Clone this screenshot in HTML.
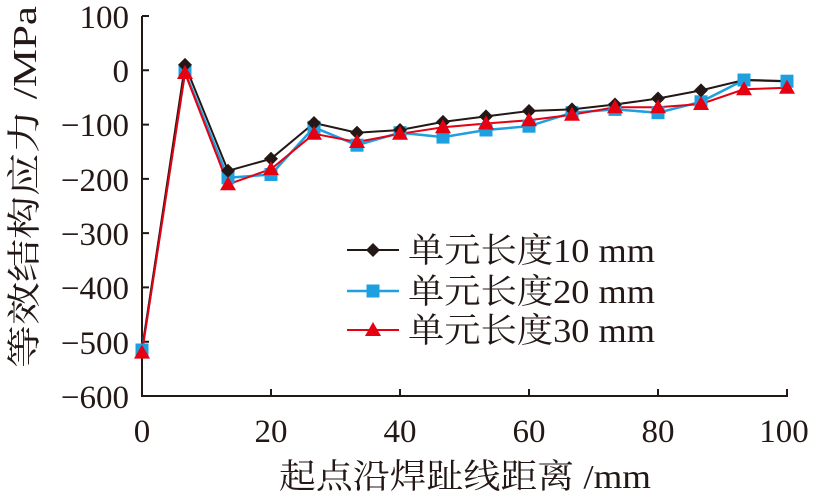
<!DOCTYPE html>
<html><head><meta charset="utf-8"><style>body{margin:0;background:#fff}</style></head><body>
<svg width="816" height="496" viewBox="0 0 816 496" xmlns="http://www.w3.org/2000/svg" font-family="Liberation Serif, Noto Serif CJK SC, serif" fill="#231815">
<defs>
<g id="d"><polygon points="0,-7 7,0 0,7 -7,0" fill="#231815"/></g>
<g id="s"><rect x="-6.5" y="-6.5" width="13" height="13" fill="#1ea0e0"/></g>
<g id="t"><polygon points="0,-8 8,6 -8,6" fill="#e50012"/></g>
</defs>
<g stroke="#231815" stroke-width="2" fill="none">
<line x1="142" y1="16" x2="142" y2="397"/>
<line x1="141" y1="396" x2="788" y2="396"/>
<path d="M142 16h7M142 70.3h7M142 124.6h7M142 178.9h7M142 233.1h7M142 287.4h7M142 341.7h7M271 396v-7M400 396v-7M529 396v-7M658 396v-7M787 396v-7"/>
</g>
<g font-size="33" text-anchor="end">
<text x="129" y="28">100</text><text x="129" y="82">0</text><text x="129" y="136">−100</text><text x="129" y="191">−200</text><text x="129" y="245">−300</text><text x="129" y="299">−400</text><text x="129" y="354">−500</text><text x="129" y="408">−600</text>
</g>
<g font-size="33" text-anchor="middle">
<text x="142" y="442">0</text><text x="271" y="442">20</text><text x="400" y="442">40</text><text x="529" y="442">60</text><text x="658" y="442">80</text><text x="784" y="442">100</text>
</g>
<text x="279" y="488" font-size="34" textLength="372" lengthAdjust="spacingAndGlyphs">起点沿焊趾线距离 /mm</text>
<text transform="translate(36,368) rotate(-90)" font-size="34" textLength="362" lengthAdjust="spacingAndGlyphs">等效结构应力 /MPa</text>
<g fill="none" stroke-width="2">
<polyline stroke="#1ea0e0" stroke-width="2.5" points="142,350 185,71.9 228,177.8 271,174.5 314,127.3 357,145.2 400,132.7 443,137.1 486,130 529,126.2 572,112.7 615,109.4 658,112.7 701,101.8 744,80 787,81.2"/>
<polyline stroke="#231815" points="142,350 185,64.9 228,170.8 271,158.8 314,123 357,132.7 400,130 443,121.9 486,116.4 529,111 572,109.4 615,104.5 658,98.5 701,90.4 744,80 787,81.2"/>
<polyline stroke="#e50012" points="142,352.6 185,73 228,184.3 271,169.1 314,133.8 357,142 400,133.8 443,127.3 486,123.5 529,120.2 572,114.8 615,107.2 658,107.2 701,104 744,89.3 787,87.7"/>
</g>
<g>
<use href="#s" x="142" y="350"/><use href="#s" x="185" y="71.9"/><use href="#s" x="228" y="177.8"/><use href="#s" x="271" y="174.5"/><use href="#s" x="314" y="127.3"/><use href="#s" x="357" y="145.2"/><use href="#s" x="400" y="132.7"/><use href="#s" x="443" y="137.1"/><use href="#s" x="486" y="130"/><use href="#s" x="529" y="126.2"/><use href="#s" x="572" y="112.7"/><use href="#s" x="615" y="109.4"/><use href="#s" x="658" y="112.7"/><use href="#s" x="701" y="101.8"/><use href="#s" x="744" y="80"/><use href="#s" x="787" y="81.2"/>
<use href="#d" x="185" y="64.9"/><use href="#d" x="228" y="170.8"/><use href="#d" x="271" y="158.8"/><use href="#d" x="314" y="123"/><use href="#d" x="357" y="132.7"/><use href="#d" x="400" y="130"/><use href="#d" x="443" y="121.9"/><use href="#d" x="486" y="116.4"/><use href="#d" x="529" y="111"/><use href="#d" x="572" y="109.4"/><use href="#d" x="615" y="104.5"/><use href="#d" x="658" y="98.5"/><use href="#d" x="701" y="90.4"/>
<use href="#t" x="142" y="352.6"/><use href="#t" x="185" y="73"/><use href="#t" x="228" y="184.3"/><use href="#t" x="271" y="169.1"/><use href="#t" x="314" y="133.8"/><use href="#t" x="357" y="142"/><use href="#t" x="400" y="133.8"/><use href="#t" x="443" y="127.3"/><use href="#t" x="486" y="123.5"/><use href="#t" x="529" y="120.2"/><use href="#t" x="572" y="114.8"/><use href="#t" x="615" y="107.2"/><use href="#t" x="658" y="107.2"/><use href="#t" x="701" y="104"/><use href="#t" x="744" y="89.3"/><use href="#t" x="787" y="87.7"/>
</g>
<line x1="347" y1="250" x2="399" y2="250" stroke="#231815" stroke-width="2"/><use href="#d" x="373" y="250"/>
<line x1="347" y1="291" x2="399" y2="291" stroke="#1ea0e0" stroke-width="2.5"/><use href="#s" x="373" y="291"/>
<line x1="347" y1="330" x2="399" y2="330" stroke="#e50012" stroke-width="2"/><use href="#t" x="373" y="330"/>
<g font-size="34">
<text x="408" y="262" textLength="247" lengthAdjust="spacingAndGlyphs">单元长度10 mm</text>
<text x="408" y="303" textLength="247" lengthAdjust="spacingAndGlyphs">单元长度20 mm</text>
<text x="408" y="342" textLength="247" lengthAdjust="spacingAndGlyphs">单元长度30 mm</text>
</g>
</svg>
</body></html>
